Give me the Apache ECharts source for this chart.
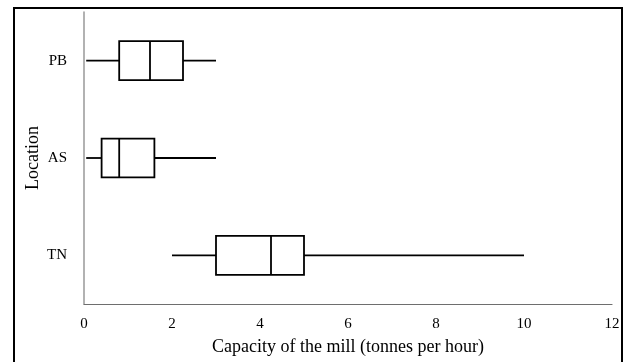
<!DOCTYPE html>
<html>
<head>
<meta charset="utf-8">
<script src="https://cdn.jsdelivr.net/npm/echarts@6/dist/echarts.min.js"></script>
<style>
  html, body { margin: 0; padding: 0; background: #fff; }
  #frame {
    position: absolute; left: 13px; top: 7px; width: 610px; height: 400px;
    border: 2px solid #000; box-sizing: border-box;
  }
  #chart { position: absolute; left: 0; top: 0; width: 625px; height: 362px; }
</style>
</head>
<body>
<div id="frame"></div>
<div id="chart"></div>
<script>
// location categories, top to bottom
const locations = ['PB', 'AS', 'TN'];
// five-number summaries (tonnes per hour)
const whiskerLow = [0.05, 0.05, 2];
const quartile1 = [0.8, 0.4, 3];
const medians = [1.5, 0.8, 4.25];
const quartile3 = [2.25, 1.6, 5];
const whiskerHigh = [3, 3, 10];
const xTicks = [0, 2, 4, 6, 8, 10, 12];

const chart = echarts.init(document.getElementById('chart'));

const boxData = locations.map((c, i) => [i, whiskerLow[i], quartile1[i], medians[i], quartile3[i], whiskerHigh[i]]);

function renderBox(params, api) {
  const idx = api.value(0);
  const lo = api.coord([api.value(1), idx]);
  const q1 = api.coord([api.value(2), idx]);
  const md = api.coord([api.value(3), idx]);
  const q3 = api.coord([api.value(4), idx]);
  const hi = api.coord([api.value(5), idx]);
  const h = api.size([0, 1])[1] * 0.4;
  const y = lo[1];
  const line = { stroke: '#000', lineWidth: 1.8 };
  return {
    type: 'group',
    children: [
      { type: 'line', shape: { x1: lo[0], y1: y, x2: q1[0], y2: y }, style: line },
      { type: 'line', shape: { x1: q3[0], y1: y, x2: hi[0], y2: y }, style: line },
      { type: 'rect', shape: { x: q1[0], y: y - h / 2, width: q3[0] - q1[0], height: h },
        style: { fill: '#fff', stroke: '#000', lineWidth: 1.8 } },
      { type: 'line', shape: { x1: md[0], y1: y - h / 2, x2: md[0], y2: y + h / 2 }, style: line }
    ]
  };
}

chart.setOption({
  animation: false,
  textStyle: { fontFamily: 'Liberation Serif' },
  grid: { left: 84, right: 13, top: 12, bottom: 58 },
  xAxis: {
    type: 'value',
    min: 0,
    max: 12,
    interval: 2,
    name: 'Capacity of the mill (tonnes per hour)',
    nameLocation: 'middle',
    nameGap: 34,
    nameMoveOverlap: false,
    nameTextStyle: { color: '#000', fontSize: 18, fontFamily: 'Liberation Serif' },
    axisLine: { show: true, lineStyle: { color: '#6e6e6e', width: 1.2 } },
    axisTick: { show: false },
    splitLine: { show: false },
    axisLabel: { color: '#000', fontSize: 15, margin: 13, fontFamily: 'Liberation Serif',
      formatter: v => xTicks.includes(v) ? String(v) : '' }
  },
  yAxis: {
    type: 'category',
    data: locations,
    inverse: true,
    name: 'Location',
    nameLocation: 'middle',
    nameGap: 42,
    nameMoveOverlap: false,
    nameRotate: 90,
    nameTextStyle: { color: '#000', fontSize: 18, fontFamily: 'Liberation Serif' },
    axisLine: { show: true, lineStyle: { color: '#999', width: 1.5 } },
    axisTick: { show: false },
    axisLabel: { color: '#000', fontSize: 15, margin: 17, fontFamily: 'Liberation Serif' }
  },
  series: [{
    type: 'custom',
    renderItem: renderBox,
    encode: { x: [1, 2, 3, 4, 5], y: 0 },
    data: boxData
  }]
});
</script>
</body>
</html>
